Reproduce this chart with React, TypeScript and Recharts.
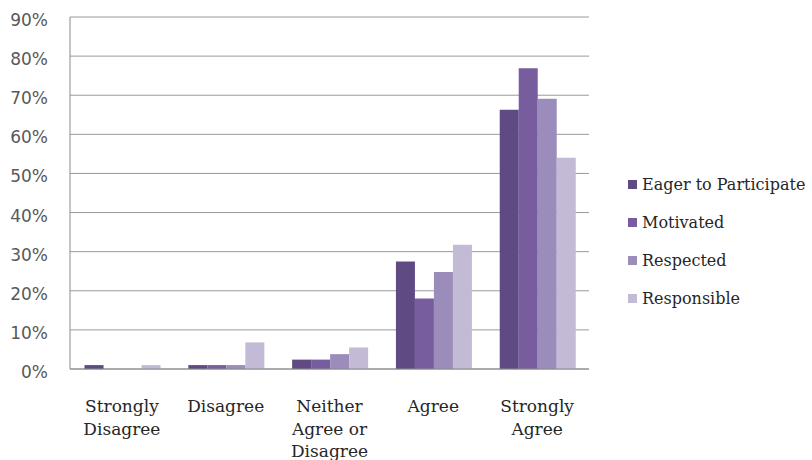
import { BarChart, Bar, XAxis, YAxis, CartesianGrid, Legend } from "recharts";

const categories = ["Strongly Disagree", "Disagree", "Neither Agree or Disagree", "Agree", "Strongly Agree"];
const categoryLines = [["Strongly", "Disagree"], ["Disagree"], ["Neither", "Agree or", "Disagree"], ["Agree"], ["Strongly", "Agree"]];
const eager = [1, 1, 2.4, 27.5, 66.3];
const motivated = [0, 1, 2.4, 18, 76.9];
const respected = [0, 1, 3.8, 24.8, 69.1];
const responsible = [1, 6.8, 5.5, 31.8, 54];
const yTicks = [0, 10, 20, 30, 40, 50, 60, 70, 80, 90];

const series = [
  { key: "eager", name: "Eager to Participate", color: "#5f4a83" },
  { key: "motivated", name: "Motivated", color: "#775d9e" },
  { key: "respected", name: "Respected", color: "#9c8cbc" },
  { key: "responsible", name: "Responsible", color: "#c3bad5" },
];

const data = categories.map((c, i) => ({
  category: c,
  eager: eager[i],
  motivated: motivated[i],
  respected: respected[i],
  responsible: responsible[i],
}));

// eslint-disable-next-line @typescript-eslint/no-explicit-any
function CategoryTick({ x, y, payload }: any) {
  const idx = categories.indexOf(payload.value);
  const lines = categoryLines[idx] ?? [payload.value];
  return (
    <text x={x} y={y} textAnchor="middle" fontFamily="DejaVu Serif" fontSize={17} fill="#262626">
      {lines.map((l, i) => (
        <tspan key={i} x={x} dy={i === 0 ? 43 : 22.5}>
          {l}
        </tspan>
      ))}
    </text>
  );
}

function LegendBox() {
  return (
    <div style={{ fontFamily: "DejaVu Serif", fontSize: 16, color: "#262626" }}>
      {series.map((s) => (
        <div key={s.key} style={{ display: "flex", alignItems: "center", height: 38 }}>
          <span style={{ width: 9, height: 9, background: s.color, marginRight: 5, display: "inline-block" }} />
          <span>{s.name}</span>
        </div>
      ))}
    </div>
  );
}

export default function App() {
  return (
    <div style={{ position: "absolute", left: 0, top: 0, background: "#fff" }}>
      <BarChart
        width={812}
        height={460}
        data={data}
        margin={{ top: 17, right: 223, bottom: 0, left: 0 }}
        barCategoryGap="14%"
        barGap={0}
      >
        <CartesianGrid vertical={false} stroke="#9a9a9a" />
        <XAxis
          dataKey="category"
          height={91}
          interval={0}
          tickSize={0}
          tickMargin={0}
          tickLine={false}
          axisLine={{ stroke: "#8a8a8a" }}
          tick={<CategoryTick />}
        />
        <YAxis
          width={70}
          domain={[0, 90]}
          ticks={yTicks}
          tickFormatter={(v) => `${v}%`}
          tickSize={0}
          tickMargin={22}
          tickLine={false}
          axisLine={{ stroke: "#8a8a8a" }}
          tick={{ fontFamily: "DejaVu Sans", fontSize: 17, fill: "#595959", dy: 3 }}
        />
        <Legend
          layout="vertical"
          align="center"
          verticalAlign="middle"
          wrapperStyle={{ left: 628, top: 165, width: 184 }}
          content={<LegendBox />}
        />
        {series.map((s) => (
          <Bar key={s.key} dataKey={s.key} name={s.name} fill={s.color} isAnimationActive={false} />
        ))}
      </BarChart>
    </div>
  );
}
